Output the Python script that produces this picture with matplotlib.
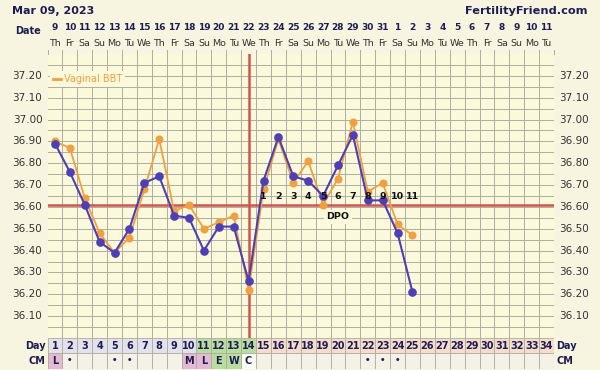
import matplotlib
matplotlib.use("Agg")
import matplotlib.pyplot as plt
from matplotlib.patches import Rectangle
from matplotlib.lines import Line2D
import numpy as np

# ---------------- data ----------------
title_date = "Mar 09, 2023"
site = "FertilityFriend.com"
date_nums = ["9", "10", "11", "12", "13", "14", "15", "16", "17", "18", "19", "20", "21",
             "22", "23", "24", "25", "26", "27", "28", "29", "30", "31", "1", "2", "3",
             "4", "5", "6", "7", "8", "9", "10", "11"]
weekdays = ["Th", "Fr", "Sa", "Su", "Mo", "Tu", "We"] * 5
weekdays = weekdays[:34]
cycle_days = list(range(1, 35))
temp_days = list(range(1, 26))
blue_temps = [36.89, 36.76, 36.61, 36.44, 36.39, 36.50, 36.71, 36.74, 36.56, 36.55,
              36.40, 36.51, 36.51, 36.26, 36.72, 36.92, 36.74, 36.72, 36.65, 36.79,
              36.93, 36.63, 36.63, 36.48, 36.21]
vaginal_temps = [36.90, 36.87, 36.64, 36.48, 36.39, 36.46, 36.68, 36.91, 36.58, 36.61,
                 36.50, 36.53, 36.56, 36.22, 36.68, 36.91, 36.71, 36.81, 36.61, 36.73,
                 36.99, 36.67, 36.71, 36.52, 36.47]
coverline = 36.61
ovulation_day = 14
dpo_days = list(range(15, 26))
dpo_labels = [str(i) for i in range(1, 12)]
ytick_vals = [36.10, 36.20, 36.30, 36.40, 36.50, 36.60, 36.70, 36.80, 36.90, 37.00, 37.10, 37.20]
cm_days = [1, 2, 5, 6, 10, 11, 12, 13, 14, 22, 23, 24]
cm_vals = ["L", "•", "•", "•", "M", "L", "E", "W", "C", "•", "•", "•"]
phase_bounds = [(1, 10), (11, 14), (15, 34)]

# ---------------- style ----------------
fig_bg = "#f7f4df"
plot_bg = "#fbf9dc"
grid_c = "#aeada0"
navy = "#1d1d55"
blue = "#4f3fb5"
orange = "#f0a040"
red = "#d2544c"

W, H = 600, 370
fig = plt.figure(figsize=(6.0, 3.7), dpi=100, facecolor=fig_bg)

x0, x1 = 47.5, 554.0
ytop, ybot = 54.0, 338.0
ax = fig.add_axes([x0 / W, 1 - ybot / H, (x1 - x0) / W, (ybot - ytop) / H])
ax.set_facecolor(plot_bg)
ax.set_xlim(0.5, 34.5)
ax.set_ylim(36.0, 37.3)

# grid
for v in np.arange(36.05, 37.3, 0.05):
    ax.axhline(v, color=grid_c, lw=0.7, zorder=1)
for k in range(1, 35):
    ax.axvline(k + 0.5, color=grid_c, lw=0.7, zorder=1)
for s in ax.spines.values():
    s.set_visible(False)
ax.tick_params(left=False, bottom=False, labelbottom=False, labelleft=False)

# y labels both sides
for v in ytick_vals:
    ax.text(0.15, v, f"{v:.2f}", ha="right", va="center", fontsize=7.5, color="#333333",
            transform=ax.transData, clip_on=False)
    ax.text(34.85, v, f"{v:.2f}", ha="left", va="center", fontsize=7.5, color="#333333",
            transform=ax.transData, clip_on=False)

# coverline and ovulation line
ax.axhline(coverline, color=red, lw=1.8, zorder=2)
ax.axvline(ovulation_day, color=red, lw=1.8, zorder=2)

# temperature series
ax.plot(temp_days, vaginal_temps, color=orange, lw=1.3, marker="o", ms=4.8, zorder=3)
ax.plot(temp_days, blue_temps, color=blue, lw=1.5, marker="o", ms=5.2, zorder=4)

# DPO labels
for d, lab in zip(dpo_days, dpo_labels):
    ax.text(d, 36.647, lab, ha="center", va="center", fontsize=6.8, fontweight="bold",
            color="#111111", zorder=5)
ax.text(20, 36.555, "DPO", ha="center", va="center", fontsize=6.8, fontweight="bold",
        color="#111111", zorder=5,
        bbox=dict(boxstyle="square,pad=0.25", fc=plot_bg, ec="none"))

leg = ax.legend(handles=[Line2D([], [], color=orange, lw=2)], labels=["Vaginal BBT"],
                loc="upper left", bbox_to_anchor=(0.0, 0.95), fontsize=7, frameon=True,
                handlelength=0.8, handletextpad=0.3, borderpad=0.3, borderaxespad=0.3)
leg.get_frame().set_facecolor(plot_bg)
leg.get_frame().set_edgecolor("none")
leg.get_frame().set_alpha(1)
for t in leg.get_texts():
    t.set_color(orange)

# top date headers
for d, dn, wd in zip(cycle_days, date_nums, weekdays):
    xf = (x0 + (d - 0.5) * (x1 - x0) / 34) / W
    fig.text(xf, 1 - 28 / H, dn, ha="center", va="center", fontsize=6.5, fontweight="bold",
             color=navy)
    fig.text(xf, 1 - 44 / H, wd, ha="center", va="center", fontsize=6.8, color="#333333")
fig.text(41 / W, 1 - 31 / H, "Date", ha="right", va="center", fontsize=7, fontweight="bold",
         color=navy)
fig.text(12 / W, 1 - 11 / H, title_date, ha="left", va="center", fontsize=8,
         fontweight="bold", color=navy)
fig.text(588 / W, 1 - 11 / H, site, ha="right", va="center", fontsize=8.2,
         fontweight="bold", color=navy)

# top ticks
for k in range(0, 35):
    xf = (x0 + k * (x1 - x0) / 34) / W
    fig.add_artist(Line2D([xf, xf], [1 - 50 / H, 1 - ytop / H], color=grid_c, lw=0.7))

# bottom table
tab = fig.add_axes([x0 / W, 1 - 368.5 / H, (x1 - x0) / W, 30.5 / H])
tab.set_xlim(0.5, 34.5)
tab.set_ylim(0, 2)
tab.axis("off")
phase_cols = ["#e3e1ea", "#b9dc9f", "#f6dccb"]
for (a, b), c in zip(phase_bounds, phase_cols):
    for d in range(a, b + 1):
        tab.add_patch(Rectangle((d - 0.5, 1), 1, 1, fc=c, ec=grid_c, lw=0.6))
for d in cycle_days:
    tab.add_patch(Rectangle((d - 0.5, 0), 1, 1, fc="#f4f2e6", ec=grid_c, lw=0.6))
    tab.text(d, 1.5, str(d), ha="center", va="center", fontsize=7, fontweight="bold",
             color=navy)
cm_col = {"L": "#e6b9d2", "M": "#e6b9d2", "E": "#b9dc9f", "W": "#b9dc9f", "C": "#fdfdf8"}
for d, v in zip(cm_days, cm_vals):
    if v in cm_col:
        tab.add_patch(Rectangle((d - 0.5, 0), 1, 1, fc=cm_col[v], ec=grid_c, lw=0.6))
    tab.text(d, 0.5, v, ha="center", va="center", fontsize=7 if v != "•" else 6,
             fontweight="bold", color=navy)
for side_x, ha in [(0.35, "right"), (34.65, "left")]:
    tab.text(side_x, 1.5, "Day", ha=ha, va="center", fontsize=7, fontweight="bold", color=navy)
    tab.text(side_x, 0.5, "CM", ha=ha, va="center", fontsize=7, fontweight="bold", color=navy)

fig.savefig("out.png", dpi=100, facecolor=fig_bg)
